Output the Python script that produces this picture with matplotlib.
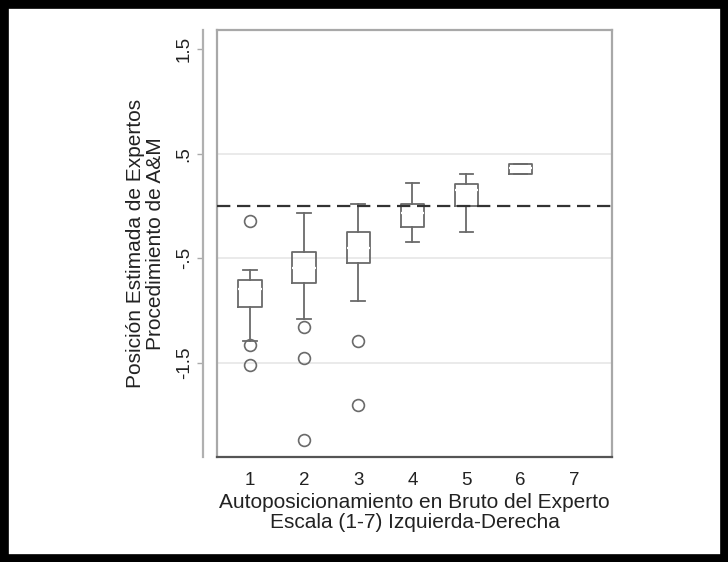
import numpy as np
import matplotlib
matplotlib.use("Agg")
import matplotlib.pyplot as plt
from matplotlib.patches import Rectangle

plt.rcParams['font.family'] = ['Liberation Sans', 'DejaVu Sans']

# datos (posicion estimada por grupo de autoposicionamiento)
grupos = [1, 2, 3, 4, 5, 6, 7]
whis_hi = [-0.61, -0.065, 0.02, 0.22, 0.31, 0.40]
q3 = [-0.71, -0.44, -0.25, 0.02, 0.21, 0.40]
mediana = [-0.79, -0.59, -0.40, -0.07, 0.15, 0.36]
q1 = [-0.96, -0.73, -0.54, -0.20, 0.0, 0.31]
whis_lo = [-1.29, -1.08, -0.91, -0.34, -0.25, 0.31]
atipicos = [[-0.14, -1.33, -1.52], [-1.15, -1.45, -2.23], [-1.29, -1.90], [], [], []]

yticks = [1.5, 0.5, -0.5, -1.5]
ytick_labels = ["1.5", ".5", "-.5", "-1.5"]
grid_y = [0.5, -0.5, -1.5]
ref_y = 0.0

stats = []
for i in range(len(q1)):
    stats.append({'whislo': whis_lo[i], 'q1': q1[i], 'med': mediana[i], 'q3': q3[i],
                  'whishi': whis_hi[i], 'fliers': atipicos[i]})

fig = plt.figure(figsize=(7.28, 5.62), dpi=100)
ax = fig.add_axes([217/728, 1 - 457/562, 395/728, 427/562])

# eje y separado del marco (hay que hacerlo antes de tocar los ticks)
ax.spines['left'].set_position(('outward', 10))
ax.spines['left'].set_color('#b0b0b0')
ax.spines['left'].set_linewidth(1.6)
for s in ['top', 'right']:
    ax.spines[s].set_color('#a8a8a8')
    ax.spines[s].set_linewidth(1.6)
ax.spines['bottom'].set_color('#555555')
ax.spines['bottom'].set_linewidth(1.6)

gris = '#6a6a6a'
for g in grid_y:
    ax.axhline(g, color='#e6e6e6', lw=1.2, zorder=0)

ax.bxp(stats, positions=grupos[:len(stats)], widths=0.43, capwidths=0.25,
       boxprops=dict(color=gris, lw=1.3),
       whiskerprops=dict(color=gris, lw=1.3),
       capprops=dict(color=gris, lw=1.3),
       medianprops=dict(color='white', lw=1.6),
       flierprops=dict(marker='o', markerfacecolor='none', markeredgecolor=gris,
                       markersize=8.5, markeredgewidth=1.2),
       manage_ticks=False, zorder=2)

ax.axhline(ref_y, color='#333333', lw=1.6, ls=(0, (6, 3)), zorder=3)
# borde izquierdo del marco
ax.plot([0, 0], [0, 1], transform=ax.transAxes, clip_on=False, color='#a8a8a8', lw=1.6)

ax.set_xlim(0.39, 7.69)
ax.set_ylim(-2.395, 1.68)

ax.set_xticks(grupos)
ax.set_xticklabels([str(g) for g in grupos], fontsize=13.5, color='#222222')
ax.tick_params(axis='x', length=0, pad=11)

ax.set_yticks(yticks)
ax.set_yticklabels(ytick_labels, fontsize=13.5, color='#222222')
ax.tick_params(axis='y', length=4.5, width=1, color='#aaaaaa', pad=3)
plt.setp(ax.get_yticklabels(), rotation=90, va='center', ha='right')

ax.set_xlabel("Autoposicionamiento en Bruto del Experto\nEscala (1-7) Izquierda-Derecha",
              fontsize=15, color='#222222', linespacing=1.05, labelpad=3)
ax.set_ylabel("Posición Estimada de Expertos\nProcedimiento de A&M",
              fontsize=15, color='#222222', linespacing=1.05, labelpad=8)

# marco negro exterior
fig.patches.append(Rectangle((0, 0), 1, 1, transform=fig.transFigure, fill=False,
                             edgecolor='black', lw=12, zorder=10))

fig.savefig("out.png", dpi=100)
